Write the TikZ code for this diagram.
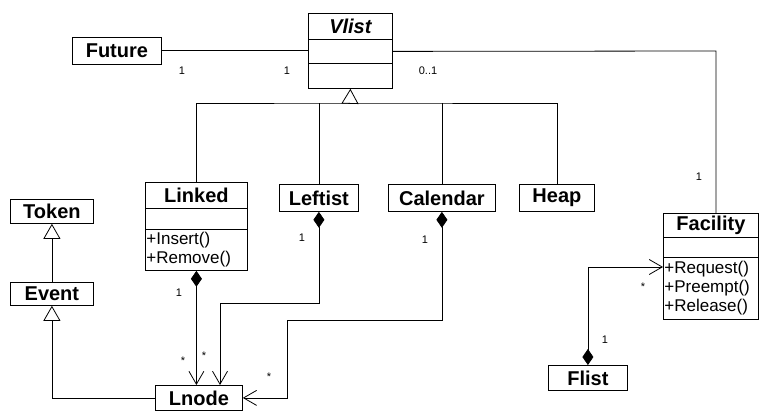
\documentclass[tikz,border=0pt]{standalone}
\usepackage{fontspec}
\setmainfont{Liberation Sans}
\usetikzlibrary{arrows.meta}

\begin{document}
\begin{tikzpicture}[x=1pt,y=-1pt,line width=0.8pt,
  cls/.style={draw,inner sep=0pt,anchor=north west,font=\fontsize{20}{24}\selectfont\bfseries},
  part/.style={draw,inner sep=0pt,anchor=north west},
  ops/.style={draw,inner xsep=1pt,inner ysep=0pt,anchor=north west,align=left,font=\fontsize{17}{19}\selectfont},
  mult/.style={inner sep=0pt,font=\fontsize{11}{13}\selectfont},
  gen/.style={-{Triangle[open,length=15pt,width=17pt]}},
  owns/.style={{Diamond[length=16pt,width=11pt]}-{Straight Barb[length=13pt,width=15pt]}}]

\useasboundingbox (0,0) rectangle (760,412);

% classes
\node[cls,minimum width=84pt,minimum height=26pt] (vlist) at (308,13) {\itshape Vlist};
\node[part,minimum width=84pt,minimum height=24pt] (vlistattr) at (308,39) {};
\node[part,minimum width=84pt,minimum height=25pt] (vlistops) at (308,63) {};

\node[cls,minimum width=89pt,minimum height=27pt] (future) at (72,37) {Future};

\node[cls,minimum width=102pt,minimum height=26pt] (linked) at (145,182) {Linked};
\node[part,minimum width=102pt,minimum height=21pt] (linkedattr) at (145,208) {};
\node[ops,text width=100pt,minimum height=41pt] (linkedops) at (145,229) {+Insert()\\+Remove()};

\node[cls,minimum width=79pt,minimum height=27pt] (leftist) at (279,184) {Leftist};
\node[cls,minimum width=107pt,minimum height=27pt] (calendar) at (388,184) {Calendar};
\node[cls,minimum width=75pt,minimum height=27pt] (heap) at (519,184) {Heap};

\node[cls,minimum width=83pt,minimum height=24pt] (token) at (10,199) {Token};
\node[cls,minimum width=83pt,minimum height=23pt] (event) at (10,282) {Event};

\node[cls,minimum width=95pt,minimum height=24pt] (facility) at (663,213) {Facility};
\node[part,minimum width=95pt,minimum height=20pt] (facilityattr) at (663,237) {};
\node[ops,text width=93pt,minimum height=62pt] (facilityops) at (663,257) {+Request()\\+Preempt()\\+Release()};

\node[cls,minimum width=79pt,minimum height=25pt] (flist) at (548,365) {Flist};
\node[cls,minimum width=87pt,minimum height=25pt] (lnode) at (155,385) {Lnode};

% bends
\coordinate (vbar) at (350,103);
\coordinate (fbend) at (716,51);
\coordinate (lbend) at (220,303);
\coordinate (cbend) at (287,320);
\coordinate (req) at (663,267);

% associations
\draw (future.east) -- (future.east -| vlistattr.west);
\draw (vlistattr.east) -- (fbend) -- (fbend |- facility.north);

% inheritance
\draw[gen] (vbar) -- (vlistops.south);
\draw (linked.north) |- (vbar) -| (heap.north);
\draw (leftist.north) -- (leftist.north |- vbar);
\draw (calendar.north) -- (calendar.north |- vbar);
\draw[gen] (event.north) -- (token.south);
\draw[gen] (lnode.west) -| (event.south);

% aggregations
\draw[owns] (linkedops.south) -- (linkedops.south |- lnode.north);
\draw[owns] (leftist.south) |- (lbend) -- (lbend |- lnode.north);
\draw[owns] (calendar.south) |- (cbend) |- (lnode.east);
\draw[owns] (flist.north) |- (req);

% multiplicities
\node[mult] (m1) at (182,71) {1};
\node[mult] (m2) at (287,71) {1};
\node[mult] (m3) at (428,71) {0..1};
\node[mult] (m4) at (699,177) {1};
\node[mult] (m5) at (302,238) {1};
\node[mult] (m6) at (425,240) {1};
\node[mult] (m7) at (179,293) {1};
\node[mult] (m8) at (183,361) {*};
\node[mult] (m9) at (204,356) {*};
\node[mult] (m10) at (269,377) {*};
\node[mult] (m11) at (643,287) {*};
\node[mult] (m12) at (605,340) {1};

\end{tikzpicture}
\end{document}
